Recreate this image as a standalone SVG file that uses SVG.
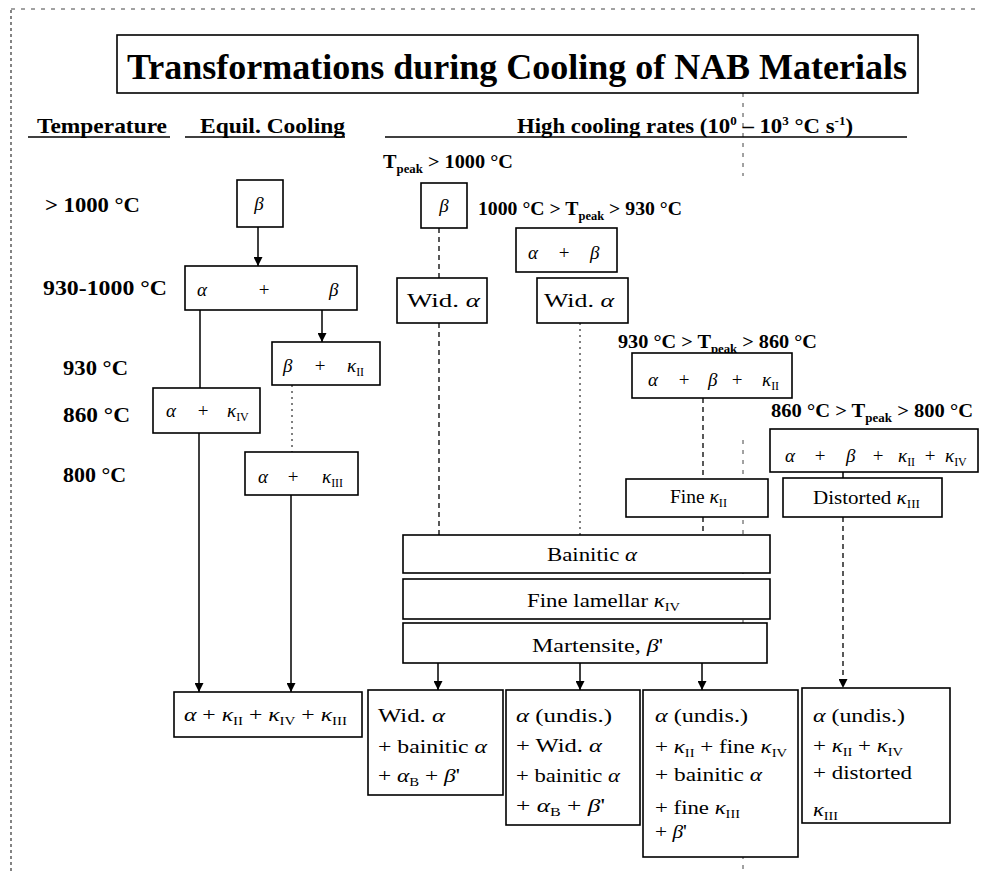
<svg xmlns="http://www.w3.org/2000/svg" width="981" height="876" viewBox="0 0 981 876">
<style>
.t{font-family:"Liberation Serif","DejaVu Serif","Times New Roman",serif;fill:#000;font-size:19px}
.b{font-weight:bold}
.g{font-style:italic}
.lab{font-family:"Liberation Serif","DejaVu Serif",serif;font-weight:bold;font-size:22px;fill:#000}
.h{font-family:"Liberation Serif","DejaVu Serif",serif;font-weight:bold;font-size:21px;fill:#000}
.title{font-family:"Liberation Serif","DejaVu Serif",serif;font-weight:bold;font-size:35px;fill:#000}
.sub{font-size:12px}
.c{text-anchor:middle}
.box{fill:#fff;stroke:#000;stroke-width:1.6}
.ln{stroke:#000;stroke-width:1.5;fill:none}
.dash{stroke:#000;stroke-width:1.3;stroke-dasharray:5 4;fill:none}
.dot{stroke:#000;stroke-width:1;stroke-dasharray:2 4;fill:none}
.art{stroke:#444;stroke-width:1;stroke-dasharray:4 6;fill:none}
.edge{stroke:#333;stroke-width:1.2;stroke-dasharray:3 3;fill:none}
.ul{stroke:#000;stroke-width:1.6}
</style>
<defs>
<marker id="ar" viewBox="0 0 10 10" refX="10" refY="5" markerWidth="9" markerHeight="9" markerUnits="userSpaceOnUse" orient="auto"><path d="M0,0 L10,5 L0,10 z" fill="#000"/></marker>
</defs>
<rect width="981" height="876" fill="#fff"/>
<g id="scan-edges">
<line class="edge" x1="11" y1="10" x2="11" y2="872"/>
<line class="art" x1="11" y1="9" x2="975" y2="9"/>
<line class="art" x1="743" y1="93" x2="743" y2="176"/>
<line class="art" x1="743" y1="440" x2="743" y2="645"/>
<line class="art" x1="743" y1="835" x2="743" y2="870"/>
</g>
<g id="title">
<rect class="box" x="117" y="35" width="801" height="58"/>
<text class="title c" x="517" y="79" textLength="780" lengthAdjust="spacingAndGlyphs">Transformations during Cooling of NAB Materials</text>
</g>
<g id="headers">
<text class="h" x="37" y="133" textLength="130" lengthAdjust="spacingAndGlyphs">Temperature</text>
<line class="ul" x1="28" y1="137" x2="170" y2="137"/>
<text class="h" x="200" y="133" textLength="145" lengthAdjust="spacingAndGlyphs">Equil. Cooling</text>
<line class="ul" x1="185" y1="137" x2="345" y2="137"/>
<text class="h" x="517" y="133" textLength="336" lengthAdjust="spacingAndGlyphs">High cooling rates (10<tspan class="sub" dy="-8">0</tspan><tspan dy="8"> – 10</tspan><tspan class="sub" dy="-8">3</tspan><tspan dy="8"> °C s</tspan><tspan class="sub" dy="-8">-1</tspan><tspan dy="8">)</tspan></text>
<line class="ul" x1="385" y1="137" x2="907" y2="137"/>
</g>
<g id="temperatures">
<text class="lab" x="45" y="212" textLength="95" lengthAdjust="spacingAndGlyphs">&gt; 1000 °C</text>
<text class="lab" x="43" y="295" textLength="124" lengthAdjust="spacingAndGlyphs">930-1000 °C</text>
<text class="lab" x="63" y="375" textLength="65" lengthAdjust="spacingAndGlyphs">930 °C</text>
<text class="lab" x="63" y="422" textLength="67" lengthAdjust="spacingAndGlyphs">860 °C</text>
<text class="lab" x="63" y="482" textLength="63" lengthAdjust="spacingAndGlyphs">800 °C</text>
</g>
<g id="connectors">
<line class="ln" x1="258" y1="227" x2="258" y2="266" marker-end="url(#ar)"/>
<line class="ln" x1="200" y1="310" x2="200" y2="388"/>
<line class="ln" x1="322" y1="310" x2="322" y2="342" marker-end="url(#ar)"/>
<line class="dot" x1="292" y1="385" x2="292" y2="452"/>
<line class="ln" x1="199" y1="433" x2="199" y2="692" marker-end="url(#ar)"/>
<line class="ln" x1="291" y1="495" x2="291" y2="692" marker-end="url(#ar)"/>
<line class="dash" x1="439" y1="228" x2="439" y2="278"/>
<line class="dash" x1="439" y1="323" x2="439" y2="535"/>
<line class="dot" x1="580" y1="323" x2="580" y2="535"/>
<line class="dash" x1="703" y1="398" x2="703" y2="479"/>
<line class="dash" x1="703" y1="517" x2="703" y2="535"/>
<line class="ln" x1="438" y1="663" x2="438" y2="690" marker-end="url(#ar)"/>
<line class="ln" x1="580" y1="663" x2="580" y2="690" marker-end="url(#ar)"/>
<line class="ln" x1="702" y1="663" x2="702" y2="690" marker-end="url(#ar)"/>
<line class="ln" x1="843" y1="472" x2="843" y2="478"/>
<line class="dash" x1="843" y1="517" x2="843" y2="688" marker-end="url(#ar)"/>
</g>
<g id="eq-beta">
<rect class="box" x="237" y="180" width="46" height="47"/>
<text class="t g c" x="259" y="210">β</text>
</g>
<g id="eq-alpha-beta">
<rect class="box" x="185" y="266" width="172" height="44"/>
<text class="t g" x="197" y="296">α</text>
<text class="t c" x="264" y="296">+</text>
<text class="t g" x="329" y="296">β</text>
</g>
<g id="eq-beta-k2">
<rect class="box" x="272" y="342" width="108" height="43"/>
<text class="t g" x="283" y="372">β</text>
<text class="t c" x="320" y="372">+</text>
<text class="t" x="347" y="372"><tspan class="g">κ</tspan><tspan class="sub" dy="4">II</tspan></text>
</g>
<g id="eq-alpha-k4">
<rect class="box" x="153" y="388" width="107" height="45"/>
<text class="t g" x="166" y="417">α</text>
<text class="t c" x="203" y="417">+</text>
<text class="t" x="227" y="417"><tspan class="g">κ</tspan><tspan class="sub" dy="4">IV</tspan></text>
</g>
<g id="eq-alpha-k3">
<rect class="box" x="245" y="452" width="113" height="43"/>
<text class="t g" x="258" y="483">α</text>
<text class="t c" x="293" y="483">+</text>
<text class="t" x="322" y="483"><tspan class="g">κ</tspan><tspan class="sub" dy="4">III</tspan></text>
</g>
<g id="eq-final">
<rect class="box" x="174" y="692" width="188" height="45"/>
<text class="t" x="184" y="721" textLength="163" lengthAdjust="spacingAndGlyphs"><tspan class="g">α</tspan> + <tspan class="g">κ</tspan><tspan class="sub" dy="4">II</tspan><tspan dy="-4"> + </tspan><tspan class="g">κ</tspan><tspan class="sub" dy="4">IV</tspan><tspan dy="-4"> + </tspan><tspan class="g">κ</tspan><tspan class="sub" dy="4">III</tspan></text>
</g>
<g id="peak-labels">
<text class="t b" x="383" y="168" textLength="130" lengthAdjust="spacingAndGlyphs">T<tspan class="sub" dy="5">peak</tspan><tspan dy="-5"> &gt; 1000 °C</tspan></text>
<text class="t b" x="478" y="215" textLength="204" lengthAdjust="spacingAndGlyphs">1000 °C &gt; T<tspan class="sub" dy="5">peak</tspan><tspan dy="-5"> &gt; 930 °C</tspan></text>
<text class="t b" x="618" y="348" textLength="199" lengthAdjust="spacingAndGlyphs">930 °C &gt; T<tspan class="sub" dy="5">peak</tspan><tspan dy="-5"> &gt; 860 °C</tspan></text>
<text class="t b" x="771" y="417" textLength="202" lengthAdjust="spacingAndGlyphs">860 °C &gt; T<tspan class="sub" dy="5">peak</tspan><tspan dy="-5"> &gt; 800 °C</tspan></text>
</g>
<g id="hc-beta">
<rect class="box" x="421" y="183" width="46" height="45"/>
<text class="t g c" x="444" y="212">β</text>
</g>
<g id="hc-alpha-beta">
<rect class="box" x="516" y="228" width="101" height="44"/>
<text class="t g" x="528" y="259">α</text>
<text class="t c" x="564" y="259">+</text>
<text class="t g" x="590" y="259">β</text>
</g>
<g id="hc-wid1">
<rect class="box" x="397" y="278" width="90" height="45"/>
<text class="t" x="407" y="307" textLength="73" lengthAdjust="spacingAndGlyphs">Wid. <tspan class="g">α</tspan></text>
</g>
<g id="hc-wid2">
<rect class="box" x="537" y="278" width="91" height="45"/>
<text class="t" x="544" y="307" textLength="70" lengthAdjust="spacingAndGlyphs">Wid. <tspan class="g">α</tspan></text>
</g>
<g id="hc-abk2">
<rect class="box" x="632" y="353" width="160" height="45"/>
<text class="t g" x="648" y="386">α</text>
<text class="t c" x="684" y="386">+</text>
<text class="t g" x="708" y="386">β</text>
<text class="t c" x="737" y="386">+</text>
<text class="t" x="762" y="386"><tspan class="g">κ</tspan><tspan class="sub" dy="4">II</tspan></text>
</g>
<g id="hc-abk2k4">
<rect class="box" x="770" y="429" width="208" height="43"/>
<text class="t g" x="785" y="462">α</text>
<text class="t c" x="820" y="462">+</text>
<text class="t g" x="846" y="462">β</text>
<text class="t c" x="878" y="462">+</text>
<text class="t" x="898" y="462"><tspan class="g">κ</tspan><tspan class="sub" dy="4">II</tspan></text>
<text class="t c" x="930" y="462">+</text>
<text class="t" x="945" y="462"><tspan class="g">κ</tspan><tspan class="sub" dy="4">IV</tspan></text>
</g>
<g id="hc-fine-k2">
<rect class="box" x="626" y="479" width="142" height="38"/>
<text class="t" x="670" y="503" textLength="57" lengthAdjust="spacingAndGlyphs">Fine <tspan class="g">κ</tspan><tspan class="sub" dy="4">II</tspan></text>
</g>
<g id="hc-distorted">
<rect class="box" x="783" y="478" width="159" height="39"/>
<text class="t" x="813" y="504" textLength="107" lengthAdjust="spacingAndGlyphs">Distorted <tspan class="g">κ</tspan><tspan class="sub" dy="4">III</tspan></text>
</g>
<g id="hc-bainitic">
<rect class="box" x="403" y="535" width="367" height="38"/>
<text class="t" x="547" y="561" textLength="90" lengthAdjust="spacingAndGlyphs">Bainitic <tspan class="g">α</tspan></text>
</g>
<g id="hc-lamellar">
<rect class="box" x="403" y="579" width="367" height="40"/>
<text class="t" x="527" y="607" textLength="153" lengthAdjust="spacingAndGlyphs">Fine lamellar <tspan class="g">κ</tspan><tspan class="sub" dy="4">IV</tspan></text>
</g>
<g id="hc-martensite">
<rect class="box" x="403" y="623" width="364" height="40"/>
<text class="t" x="532" y="652" textLength="131" lengthAdjust="spacingAndGlyphs">Martensite, <tspan class="g">β</tspan>'</text>
</g>
<g id="res1">
<rect class="box" x="368" y="690" width="135" height="105"/>
<text class="t" x="378" y="722" textLength="67" lengthAdjust="spacingAndGlyphs">Wid. <tspan class="g">α</tspan></text>
<text class="t" x="378" y="753" textLength="109" lengthAdjust="spacingAndGlyphs">+ bainitic <tspan class="g">α</tspan></text>
<text class="t" x="378" y="782" textLength="82" lengthAdjust="spacingAndGlyphs">+ <tspan class="g">α</tspan><tspan class="sub" dy="4">B</tspan><tspan dy="-4"> + </tspan><tspan class="g">β</tspan>'</text>
</g>
<g id="res2">
<rect class="box" x="506" y="690" width="134" height="135"/>
<text class="t" x="516" y="722" textLength="96" lengthAdjust="spacingAndGlyphs"><tspan class="g">α</tspan> (undis.)</text>
<text class="t" x="516" y="752" textLength="86" lengthAdjust="spacingAndGlyphs">+ Wid. <tspan class="g">α</tspan></text>
<text class="t" x="516" y="782" textLength="104" lengthAdjust="spacingAndGlyphs">+ bainitic <tspan class="g">α</tspan></text>
<text class="t" x="516" y="812" textLength="89" lengthAdjust="spacingAndGlyphs">+ <tspan class="g">α</tspan><tspan class="sub" dy="4">B</tspan><tspan dy="-4"> + </tspan><tspan class="g">β</tspan>'</text>
</g>
<g id="res3">
<rect class="box" x="643" y="690" width="155" height="167"/>
<text class="t" x="655" y="722" textLength="93" lengthAdjust="spacingAndGlyphs"><tspan class="g">α</tspan> (undis.)</text>
<text class="t" x="655" y="753" textLength="132" lengthAdjust="spacingAndGlyphs">+ <tspan class="g">κ</tspan><tspan class="sub" dy="4">II</tspan><tspan dy="-4"> + fine </tspan><tspan class="g">κ</tspan><tspan class="sub" dy="4">IV</tspan></text>
<text class="t" x="655" y="781" textLength="107" lengthAdjust="spacingAndGlyphs">+ bainitic <tspan class="g">α</tspan></text>
<text class="t" x="655" y="814" textLength="85" lengthAdjust="spacingAndGlyphs">+ fine <tspan class="g">κ</tspan><tspan class="sub" dy="4">III</tspan></text>
<text class="t" x="655" y="838" textLength="32" lengthAdjust="spacingAndGlyphs">+ <tspan class="g">β</tspan>'</text>
</g>
<g id="res4">
<rect class="box" x="802" y="688" width="148" height="135"/>
<text class="t" x="813" y="722" textLength="92" lengthAdjust="spacingAndGlyphs"><tspan class="g">α</tspan> (undis.)</text>
<text class="t" x="813" y="752" textLength="90" lengthAdjust="spacingAndGlyphs">+ <tspan class="g">κ</tspan><tspan class="sub" dy="4">II</tspan><tspan dy="-4"> + </tspan><tspan class="g">κ</tspan><tspan class="sub" dy="4">IV</tspan></text>
<text class="t" x="813" y="779" textLength="99" lengthAdjust="spacingAndGlyphs">+ distorted</text>
<text class="t" x="813" y="816" textLength="25" lengthAdjust="spacingAndGlyphs"><tspan class="g">κ</tspan><tspan class="sub" dy="4">III</tspan></text>
</g>
</svg>
